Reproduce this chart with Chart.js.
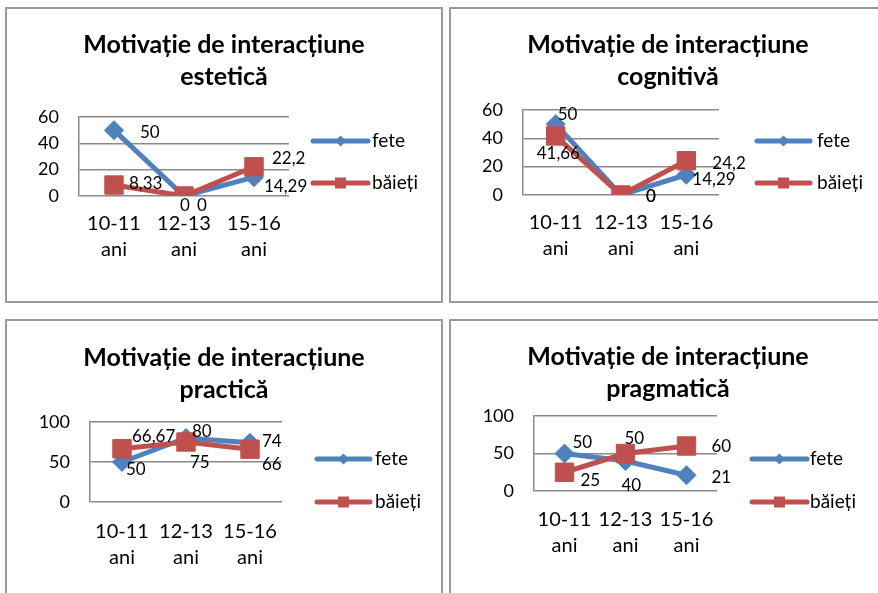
<!DOCTYPE html>
<html lang="ro">
<head>
<meta charset="utf-8">
<title>Motivație de interacțiune</title>
<script src="https://cdn.jsdelivr.net/npm/chart.js@4.4.1/dist/chart.umd.min.js"></script>
<style>
  html, body { margin: 0; padding: 0; background: #fff; }
  body { width: 878px; height: 593px; position: relative; overflow: hidden; }
  .panel { position: absolute; box-sizing: border-box; border: 2px solid #9a9a9a; }
  canvas { position: absolute; }
</style>
</head>
<body>
<div class="panel" style="left:5px;top:7px;width:438px;height:296px"></div>
<div class="panel" style="left:449px;top:7px;width:440px;height:296px"></div>
<div class="panel" style="left:5px;top:319px;width:438px;height:290px"></div>
<div class="panel" style="left:449px;top:319px;width:440px;height:290px"></div>

<canvas id="c1" width="438" height="296" style="left:5px;top:7px"></canvas>
<canvas id="c2" width="438" height="296" style="left:449px;top:7px"></canvas>
<canvas id="c3" width="438" height="280" style="left:5px;top:319px"></canvas>
<canvas id="c4" width="438" height="280" style="left:449px;top:319px"></canvas>

<script>
// Age groups on the horizontal axis (two lines each)
const categories = [['10-11', 'ani'], ['12-13', 'ani'], ['15-16', 'ani']];
const seriesNames = ['fete', 'băieți'];

// Values (%) per type of interaction motivation
const esteticaFete = [50, 0, 14.29];
const esteticaBaieti = [8.33, 0, 22.2];
const cognitivaFete = [50, 0, 14.29];
const cognitivaBaieti = [41.66, 0, 24.2];
const practicaFete = [50, 80, 74];
const practicaBaieti = [66.67, 75, 66];
const pragmaticaFete = [50, 40, 21];
const pragmaticaBaieti = [25, 50, 60];

// Value-axis tick marks
const ticksTo60 = [0, 20, 40, 60];
const ticksTo100 = [0, 50, 100];

const titles = [
  ['Motivație de interacțiune', 'estetică'],
  ['Motivație de interacțiune', 'cognitivă'],
  ['Motivație de interacțiune', 'practică'],
  ['Motivație de interacțiune', 'pragmatică']
];

const BLUE = '#4F81BD';
const RED = '#C0504D';
const GRID = '#8a8a8a';
const FONT = 'Lato, "Open Sans", sans-serif';

// Decimal comma, as in Romanian
const fmt = v => String(v).replace('.', ',');

// Value labels next to each point; offsets are [left edge dx, centre dy] in px
const valueLabels = {
  id: 'valueLabels',
  afterDatasetsDraw(chart, args, opts) {
    const ctx = chart.ctx;
    ctx.save();
    ctx.font = '17px ' + FONT;
    ctx.fillStyle = '#000';
    ctx.textAlign = 'left';
    ctx.textBaseline = 'middle';
    chart.data.datasets.forEach((ds, i) => {
      const meta = chart.getDatasetMeta(i);
      meta.data.forEach((pt, j) => {
        const o = opts.offsets[i][j];
        ctx.fillText(fmt(ds.data[j]), pt.x + o[0], pt.y + o[1]);
      });
    });
    ctx.restore();
  }
};

// Legend on the right: a thick line with the series marker, then the name
const sideLegend = {
  id: 'sideLegend',
  afterDraw(chart, args, opts) {
    const ctx = chart.ctx;
    ctx.save();
    chart.data.datasets.forEach((ds, i) => {
      const y = opts.ys[i];
      const x1 = opts.x1, x2 = opts.x2, xm = (x1 + x2) / 2;
      ctx.strokeStyle = ds.borderColor;
      ctx.fillStyle = ds.borderColor;
      ctx.lineWidth = 5;
      ctx.lineCap = 'round';
      ctx.beginPath();
      ctx.moveTo(x1, y);
      ctx.lineTo(x2, y);
      ctx.stroke();
      ctx.beginPath();
      if (ds.pointStyle === 'rectRot') {
        const r = 5.5;
        ctx.moveTo(xm, y - r); ctx.lineTo(xm + r, y); ctx.lineTo(xm, y + r); ctx.lineTo(xm - r, y);
        ctx.closePath();
      } else {
        const s = 5.5;
        ctx.rect(xm - s, y - s, 2 * s, 2 * s);
      }
      ctx.fill();
      ctx.font = '19px ' + FONT;
      ctx.fillStyle = '#000';
      ctx.textAlign = 'left';
      ctx.textBaseline = 'middle';
      ctx.fillText(ds.label, opts.textX, y);
    });
    ctx.restore();
  }
};

function makeChart(id, cfg) {
  const canvas = document.getElementById(id);
  const W = canvas.width, H = canvas.height;
  const area = cfg.area; // [left, top, right, bottom] inside the canvas
  const xScaleHeight = 70;
  return new Chart(canvas, {
    type: 'line',
    data: {
      labels: categories,
      datasets: [
        {
          label: seriesNames[0], data: cfg.fete, order: 1,
          borderColor: BLUE, backgroundColor: BLUE, borderWidth: 5,
          pointStyle: 'rectRot', pointRadius: 9.5, pointBorderWidth: 1,
          pointBackgroundColor: BLUE, pointBorderColor: BLUE, tension: 0
        },
        {
          label: seriesNames[1], data: cfg.baieti, order: 0,
          borderColor: RED, backgroundColor: RED, borderWidth: 5,
          pointStyle: 'rect', pointRadius: 13, pointBorderWidth: 1,
          pointBackgroundColor: RED, pointBorderColor: RED, tension: 0
        }
      ]
    },
    options: {
      responsive: false,
      animation: false,
      events: [],
      layout: {
        padding: { left: 0, top: 0, right: 0, bottom: H - area[3] - xScaleHeight }
      },
      scales: {
        x: {
          offset: true,
          grid: { display: false, drawTicks: false },
          border: { display: false },
          ticks: {
            color: '#000', padding: cfg.xPad, maxRotation: 0, autoSkip: false,
            font: { family: FONT, size: 20, lineHeight: '26px' }
          },
          afterFit: s => { s.height = xScaleHeight; }
        },
        y: {
          min: 0, max: cfg.ticks[cfg.ticks.length - 1],
          afterBuildTicks: s => { s.ticks = cfg.ticks.map(v => ({ value: v })); },
          grid: { color: GRID, lineWidth: 1.5, drawTicks: false },
          border: { display: true, color: GRID, width: 1.5 },
          ticks: {
            color: '#000', padding: 20,
            font: { family: FONT, size: 18 }
          },
          afterFit: s => { s.width = area[0]; }
        },
        // empty right-hand band that holds the legend
        legendBand: {
          type: 'linear', position: 'right', axis: 'y',
          grid: { display: false, drawTicks: false },
          border: { display: false },
          ticks: { display: false },
          afterFit: s => { s.width = W - area[2]; }
        }
      },
      plugins: {
        legend: { display: false },
        tooltip: { enabled: false },
        title: {
          display: true, text: cfg.title, color: '#000',
          font: { family: FONT, size: 25, weight: 'bold', lineHeight: '32px' },
          padding: { top: cfg.titleTop, bottom: area[1] - cfg.titleTop - 64 }
        },
        valueLabels: { offsets: cfg.offsets },
        sideLegend: cfg.legend
      }
    },
    plugins: [valueLabels, sideLegend]
  });
}

makeChart('c1', {
  title: titles[0], fete: esteticaFete, baieti: esteticaBaieti, ticks: ticksTo60,
  area: [74, 110, 284, 189], titleTop: 22, xPad: 15,
  offsets: [
    [[26, 2], [13, 10], [10, 9]],
    [[15, -2], [-4, 10], [18, -8]]
  ],
  legend: { x1: 308, x2: 363, textX: 367, ys: [134, 176] }
});

makeChart('c2', {
  title: titles[1], fete: cognitivaFete, baieti: cognitivaBaieti, ticks: ticksTo60,
  area: [74, 103, 270, 188], titleTop: 22, xPad: 15,
  offsets: [
    [[2, -10], [25, 2], [6, 5]],
    [[-19, 18], [25, 2], [26, 3]]
  ],
  legend: { x1: 308, x2: 361, textX: 368, ys: [134, 176] }
});

makeChart('c3', {
  title: titles[2], fete: practicaFete, baieti: practicaBaieti, ticks: ticksTo100,
  area: [85, 103, 277, 183], titleTop: 23, xPad: 17,
  offsets: [
    [[4, 8], [6, -6], [12, -1]],
    [[10, -12], [4, 21], [12, 15]]
  ],
  legend: { x1: 312, x2: 365, textX: 370, ys: [140, 183] }
});

makeChart('c4', {
  title: titles[3], fete: pragmaticaFete, baieti: pragmaticaBaieti, ticks: ticksTo100,
  area: [85, 97, 268, 172], titleTop: 22, xPad: 16,
  offsets: [
    [[8, -11], [-4, 25], [25, 2]],
    [[16, 8], [-1, -15], [25, 1]]
  ],
  legend: { x1: 303, x2: 358, textX: 361, ys: [140, 183] }
});
</script>
</body>
</html>
